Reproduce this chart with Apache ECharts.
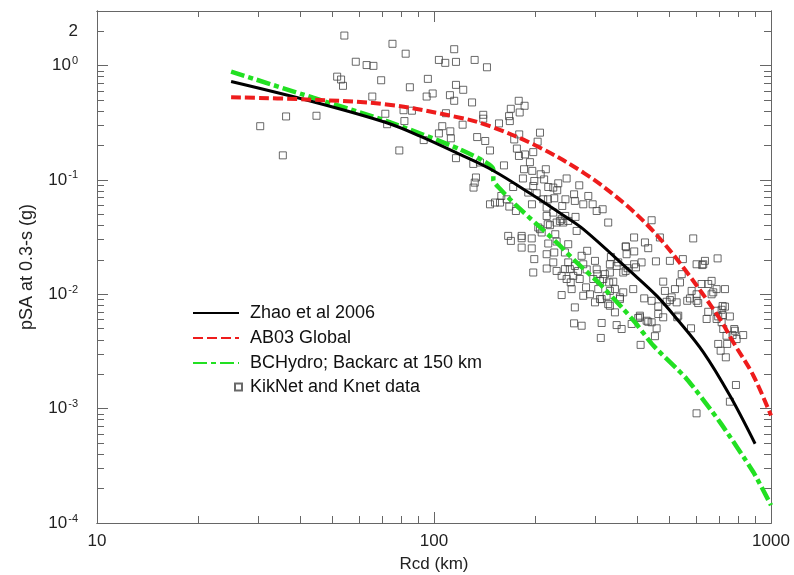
<!DOCTYPE html>
<html>
<head>
<meta charset="utf-8">
<script src="https://cdn.jsdelivr.net/npm/echarts@6.0.0/dist/echarts.min.js"></script>
<style>
  html, body { margin: 0; padding: 0; background: #fff; }
  #chart { width: 794px; height: 575px; }
</style>
</head>
<body>
<div id="chart"></div>
<script>
// axis ticks / labels
var xMajor = [10, 100, 1000];
var xMinor = [20, 30, 40, 50, 60, 70, 80, 90, 200, 300, 400, 500, 600, 700, 800, 900];
var yMajor = [0.0001, 0.001, 0.01, 0.1, 1];
var yLabelVals = [0.0001, 0.001, 0.01, 0.1, 1, 2];
var yMinor = [0.0002, 0.0003, 0.0004, 0.0005, 0.0006, 0.0007, 0.0008, 0.0009,
  0.002, 0.003, 0.004, 0.005, 0.006, 0.007, 0.008, 0.009,
  0.02, 0.03, 0.04, 0.05, 0.06, 0.07, 0.08, 0.09,
  0.2, 0.3, 0.4, 0.5, 0.6, 0.7, 0.8, 0.9, 2];

// Zhao et al 2006
var zhaoDist = [25, 44.9, 72.4, 90.9, 119.4, 149.6, 192.6, 241.8, 277.3, 381.4, 459, 526, 629.5, 755.1, 897];
var zhaoPsa  = [0.725, 0.473, 0.316, 0.2415, 0.167, 0.121, 0.0764, 0.0491, 0.0371, 0.016, 0.00964, 0.00608, 0.00312, 0.0013, 0.000493];

// AB03 Global
var ab03Dist = [25, 41.9, 72.4, 119.4, 146.6, 201.7, 277.3, 364.4, 446.4, 548, 705.4, 773, 886, 1000];
var ab03Psa  = [0.529, 0.505, 0.457, 0.35, 0.295, 0.198, 0.116, 0.0634, 0.0358, 0.0173, 0.00608, 0.0038, 0.00195, 0.00087];

// BCHydro, backarc at 150 km
var bchDist = [25, 43.8, 72.4, 119.4, 150, 150, 157.4, 176, 201.7, 231, 265, 310.8, 364.4, 394.9, 447.6, 562, 705.4, 886, 1000];
var bchPsa  = [0.886, 0.523, 0.327, 0.185, 0.124, 0.099, 0.0828, 0.0592, 0.041, 0.0284, 0.019, 0.0123, 0.00743, 0.00569, 0.00356, 0.00182, 0.000762, 0.000279, 0.000143];

// KikNet and Knet records [Rcd km, pSA g]
var kiknetData = [
  [30.5,0.295],[35.6,0.164],[36.4,0.359],[44.8,0.364],[54.2,1.83],[51.6,0.80],[53.0,0.755],[53.7,0.665],
  [58.6,1.08],[63.1,1.01],[66.1,0.994],[69.7,0.744],[75.3,1.55],[65.6,0.536],[71.7,0.379],[72.6,0.307],
  [82.4,1.27],[84.8,0.646],[95.9,0.765],[114.8,1.39],[103.4,1.12],[108.0,1.056],[116.2,1.077],[99.1,0.570],
  [95.1,0.536],[111.5,0.551],[114.8,0.492],[116.2,0.678],[81.2,0.407],[86.0,0.403],[81.7,0.327],[108.5,0.383],
  [105.8,0.295],[111.8,0.266],[103.4,0.255],[112.2,0.231],[93.2,0.223],[78.9,0.181],[116.2,0.155],[132.0,1.12],
  [143.6,0.966],[122.1,0.614],[129.7,0.476],[178.4,0.492],[185.7,0.445],[169.0,0.419],[179.6,0.389],[167.0,0.361],
  [140.0,0.371],[140.0,0.343],[167.9,0.327],[155.9,0.312],[121.6,0.304],[134.3,0.237],[141.9,0.219],[146.6,0.181],
  [130.8,0.138],[136.9,0.142],[133.2,0.105],[132.1,0.0947],[131.0,0.0857],[161.3,0.134],[171.8,0.0867],[206.3,0.259],
  [203.0,0.216],[179.0,0.250],[173.0,0.226],[176.2,0.188],[178.7,0.162],[186.2,0.167],[192.6,0.143],[197.0,0.175],
  [185.0,0.124],[195.7,0.120],[214.7,0.124],[207.3,0.112],[183.6,0.103],[198.4,0.0978],[212.2,0.101],[218.3,0.0867],
  [233.7,0.0934],[247.5,0.103],[269.8,0.0897],[232.1,0.0812],[217.8,0.0677],[227.4,0.0691],[245.5,0.0677],[260.4,0.0748],
  [287.0,0.0724],[277.3,0.0612],[295.7,0.0612],[316.5,0.0554],[328.8,0.0424],[303.9,0.0535],[190.4,0.0775],[201.7,0.0764],
  [210.9,0.0677],[195.3,0.0612],[240.2,0.0592],[245.2,0.0484],[236.4,0.0438],[250.2,0.0438],[263.0,0.0475],[265.0,0.0358],
  [215.9,0.0484],[217.5,0.041],[206.3,0.0371],[229.0,0.0335],[146.6,0.0612],[151.7,0.0634],[157.0,0.0634],[158.4,0.0724],
  [164.3,0.0677],[167.3,0.0585],[175.0,0.0535],[166.0,0.0324],[182.0,0.0324],[215.9,0.0573],[225.9,0.0518],[239.2,0.0453],
  [241.8,0.0424],[231.1,0.0424],[220.8,0.0402],[208.7,0.0347],[203.9,0.0384],[370.4,0.0262],[169.1,0.0293],[182.0,0.0309],
  [195.0,0.0308],[182.0,0.0256],[195.0,0.0252],[218.3,0.0278],[231.1,0.0289],[227.4,0.0232],[244.6,0.0232],[284.8,0.0240],
  [198.4,0.0203],[215.9,0.0224],[197.0,0.0155],[216.0,0.0168],[225.9,0.0190],[231.1,0.0160],[244.6,0.0166],[250.2,0.0190],
  [239.2,0.0145],[247.5,0.0136],[259.0,0.0145],[270.6,0.0136],[267.6,0.0160],[261.8,0.0177],[277.3,0.0183],[283.9,0.0165],
  [303.9,0.0165],[296.9,0.0136],[317.9,0.0136],[256.1,0.0111],[239.2,0.00985],[282.6,0.0115],[290.3,0.0100],[307.2,0.0111],
  [310.8,0.00908],[300.4,0.0085],[325.2,0.0097],[340.4,0.0129],[344.3,0.0111],[356.2,0.0094],[332.6,0.00794],[344.3,0.00695],
  [331.0,0.0127],[332.6,0.0183],[348.3,0.0177],[364.4,0.0104],[364.4,0.0155],[261.8,0.00768],[260.4,0.00557],[274.2,0.00531],
  [314.4,0.00561],[348.3,0.00538],[360.4,0.00497],[312.6,0.00415],[370.4,0.0160],[442.4,0.0444],[587.7,0.0308],[392.4,0.0314],
  [468.1,0.0314],[422.6,0.0284],[371.2,0.0261],[392.7,0.0237],[432.2,0.0253],[334.9,0.0212],[455.6,0.0194],[397.4,0.0172],
  [501.2,0.0196],[547.6,0.0203],[601.5,0.0183],[629.5,0.0183],[636.8,0.0196],[694.3,0.0206],[413.0,0.0190],[625,0.018],
  [352.1,0.0190],[375.5,0.0169],[305.2,0.0150],[321.4,0.0150],[310.8,0.0131],[390.1,0.0111],[314.4,0.00908],[328.8,0.0082],
  [356.2,0.00908],[385.9,0.0055],[408.3,0.00629],[432.2,0.00575],[442.4,0.00569],[457.7,0.00504],[452.5,0.0043],[410.3,0.00361],
  [478.8,0.0129],[484.4,0.0107],[518.8,0.0111],[507.2,0.0094],[537.0,0.0127],[543.3,0.0150],[581.4,0.0107],[601.5,0.0100],
  [622.3,0.0123],[651.2,0.0123],[666.5,0.0131],[689.6,0.0111],[673.9,0.0104],[730.1,0.0111],[666.5,0.0100],[420.5,0.00921],
  [442.4,0.00877],[462.8,0.00784],[490.0,0.0086],[501.2,0.0089],[524.8,0.0085],[564.2,0.00877],[574.7,0.0092],[601.5,0.00877],
  [608.1,0.00838],[408.3,0.0065],[403.6,0.0062],[427.5,0.00587],[462.8,0.00672],[478.8,0.00629],[530.6,0.0065],[527,0.0063],
  [579,0.00504],[651.2,0.00703],[689.6,0.00718],[697.2,0.00641],[718.6,0.00658],[713.7,0.00732],[730.1,0.0078],[755.1,0.0064],
  [718.6,0.0079],[644.1,0.00608],[689.6,0.00608],[713.7,0.00569],[721.6,0.00497],[737.9,0.00434],[769.1,0.0044],[778.0,0.00497],
  [826.9,0.0044],[790.7,0.00406],[697.2,0.00368],[741.3,0.00368],[708.8,0.00321],[734.5,0.00281],[787.0,0.00161],[755.1,0.00115],
  [601.3,0.00091],[781.6,0.0048],
  [197.0,0.0885],[225.9,0.0857],[261.8,0.0655],[250.2,0.0274],[274.2,0.0217],[300.4,0.0196],[253.0,0.0166],[254.5,0.0127],
  [332.6,0.0155],[372.8,0.0224],[392.5,0.0183],[332.6,0.0107],[277.3,0.0097]
];

function zip(a, b) {
  return a.map(function (v, i) { return [v, b[i]]; });
}

var FONT = '"Liberation Sans", Arial, Helvetica, sans-serif';
var AXIS_COLOR = '#666';

// frame axis: ticks drawn inside, one axis per tick length
function frameAxis(kind, pos, ticks, len, label) {
  var ax = {
    type: 'log',
    logBase: 10,
    position: pos,
    min: kind === 'x' ? 10 : 0.0001,
    max: kind === 'x' ? 1000 : 3,
    axisLine: { show: true, onZero: false, lineStyle: { color: AXIS_COLOR, width: 1 } },
    axisTick: { show: true, inside: true, length: len, customValues: ticks, lineStyle: { color: AXIS_COLOR, width: 1 } },
    axisLabel: { show: false },
    splitLine: { show: false },
    minorTick: { show: false },
    minorSplitLine: { show: false }
  };
  if (label) ax.axisLabel = label;
  return ax;
}

var xLabel = {
  show: true,
  customValues: xMajor,
  margin: 10,
  color: '#222',
  fontSize: 17,
  fontFamily: FONT,
  formatter: function (v) { return String(Math.round(v)); }
};

var yLabel = {
  show: true,
  customValues: yLabelVals,
  margin: 19,
  color: '#222',
  fontFamily: FONT,
  formatter: function (v) {
    if (Math.abs(v - 2) < 1e-6) return '{b|2}';
    var e = Math.round(Math.log10(v));
    return '{b|10}{s|' + e + '}';
  },
  rich: {
    b: { fontSize: 17, fontFamily: FONT, color: '#222', lineHeight: 20 },
    s: { fontSize: 11, fontFamily: FONT, color: '#222', verticalAlign: 'top', padding: [0, 0, 0, 1] }
  }
};

var xMain = frameAxis('x', 'bottom', xMajor, 11, xLabel);
xMain.name = 'Rcd (km)';
xMain.nameLocation = 'middle';
xMain.nameGap = 33;
xMain.nameTextStyle = { fontSize: 17, fontFamily: FONT, color: '#222' };

var yMain = frameAxis('y', 'left', yMajor, 11, yLabel);
yMain.name = 'pSA at 0.3-s (g)';
yMain.nameLocation = 'middle';
yMain.nameGap = 61;
yMain.nameTextStyle = { fontSize: 18, fontFamily: FONT, color: '#222' };

var chart = echarts.init(document.getElementById('chart'), null, { renderer: 'canvas' });

var option = {
  backgroundColor: '#fff',
  animation: false,
  grid: { left: 97, right: 23, top: 11, bottom: 52, containLabel: false, outerBoundsMode: 'none' },
  xAxis: [
    xMain,
    frameAxis('x', 'bottom', xMinor, 7),
    frameAxis('x', 'top', xMajor, 11),
    frameAxis('x', 'top', xMinor, 6)
  ],
  yAxis: [
    yMain,
    frameAxis('y', 'left', yMinor, 7),
    frameAxis('y', 'right', yMajor, 11),
    frameAxis('y', 'right', yMinor, 7)
  ],
  legend: [
    {
      orient: 'vertical',
      left: 192,
      top: 304,
      padding: 0,
      itemWidth: 46,
      itemHeight: 16,
      itemGap: 7,
      selectedMode: false,
      itemStyle: { opacity: 0 },
      textStyle: { fontSize: 18, fontFamily: FONT, color: '#111', lineHeight: 16, padding: [0, 0, 0, 6] },
      data: ['Zhao et al 2006', 'AB03 Global', 'BCHydro; Backarc at 150 km']
    },
    {
      orient: 'vertical',
      left: 234,
      top: 378,
      padding: 0,
      itemWidth: 7,
      itemHeight: 7,
      selectedMode: false,
      textStyle: { fontSize: 18, fontFamily: FONT, color: '#111', padding: [0, 0, 0, 3] },
      data: ['KikNet and Knet data']
    }
  ],
  series: [
    {
      name: 'KikNet and Knet data',
      type: 'scatter',
      symbol: 'rect',
      symbolSize: 7,
      z: 2,
      itemStyle: { color: 'rgba(0,0,0,0)', borderColor: '#444', borderWidth: 1 },
      data: kiknetData
    },
    {
      name: 'Zhao et al 2006',
      type: 'line',
      showSymbol: false,
      symbol: 'none',
      smooth: 0.35,
      z: 4,
      color: '#000',
      lineStyle: { color: '#000', width: 3 },
      data: zip(zhaoDist, zhaoPsa)
    },
    {
      name: 'AB03 Global',
      type: 'line',
      showSymbol: false,
      symbol: 'none',
      smooth: 0.35,
      z: 4,
      color: '#ee1c1c',
      lineStyle: { color: '#ee1c1c', width: 4, type: [10, 4] },
      data: zip(ab03Dist, ab03Psa)
    },
    {
      name: 'BCHydro; Backarc at 150 km',
      type: 'line',
      showSymbol: false,
      symbol: 'none',
      smooth: 0.2,
      z: 3,
      color: '#22e022',
      lineStyle: { color: '#22e022', width: 4.5, type: [14, 4, 5, 4] },
      data: zip(bchDist, bchPsa)
    }
  ]
};

chart.setOption(option);
</script>
</body>
</html>
